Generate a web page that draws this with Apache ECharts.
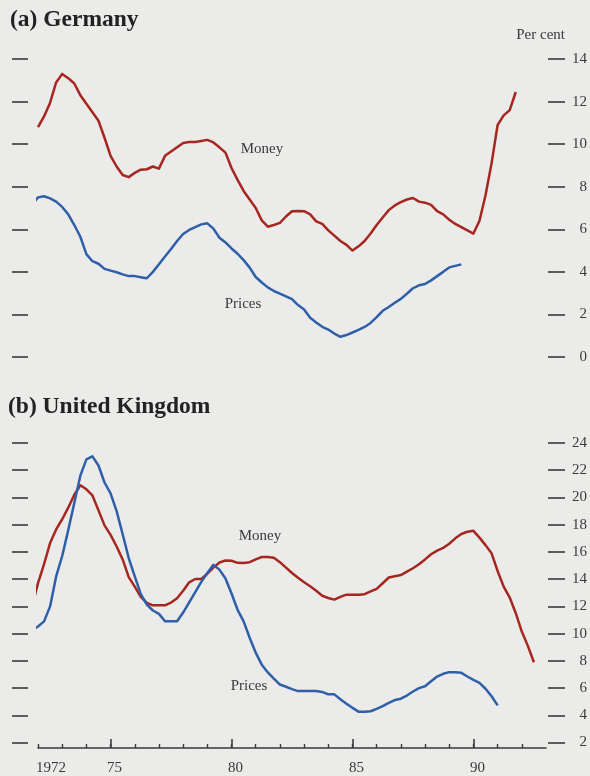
<!DOCTYPE html>
<html>
<head>
<meta charset="utf-8">
<script src="https://cdn.jsdelivr.net/npm/echarts@6/dist/echarts.min.js"></script>
<style>
  html, body { margin: 0; padding: 0; background: #ebebea; }
  #chart { width: 590px; height: 776px; }
</style>
</head>
<body>
<div id="chart"></div>
<script>
// Quarterly annual growth rates, per cent. Each series starts at its own year.
const deMoneyStart = 1972.0;
const deMoney = [
  10.8, 11.3, 11.95, 12.9,
  13.3, 13.1, 12.85, 12.3,
  11.9, 11.5, 11.1, 10.3,
  9.45, 8.95, 8.55, 8.45,
  8.65, 8.8, 8.82, 8.95,
  8.85, 9.45, 9.65, 9.85,
  10.05, 10.1, 10.1, 10.15,
  10.2, 10.08, 9.85, 9.6,
  8.88, 8.32, 7.8, 7.4,
  7.0, 6.42, 6.12, 6.2,
  6.3, 6.6, 6.85, 6.86,
  6.85, 6.7, 6.37, 6.25,
  5.95, 5.7, 5.45, 5.27,
  5.0, 5.2, 5.45, 5.8,
  6.2, 6.55, 6.9, 7.12,
  7.28, 7.4, 7.47, 7.3,
  7.25, 7.15, 6.85, 6.7,
  6.45, 6.25, 6.1, 5.95,
  5.8, 6.4, 7.6, 9.1,
  10.9, 11.35, 11.6, 12.45
];

const dePricesStart = 1971.75;
const dePrices = [
  7.15,
  7.5, 7.55, 7.45, 7.3,
  7.05, 6.7, 6.2, 5.65,
  4.83, 4.5, 4.38, 4.14,
  4.06, 3.98, 3.88, 3.8,
  3.8, 3.75, 3.7, 4.0,
  4.36, 4.72, 5.07, 5.45,
  5.78, 5.97, 6.1, 6.23,
  6.28, 6.03, 5.6, 5.38,
  5.1, 4.85, 4.55, 4.2,
  3.76, 3.5, 3.27, 3.1,
  2.98, 2.85, 2.72, 2.44,
  2.23, 1.84, 1.62, 1.42,
  1.29, 1.1, 0.95, 1.03,
  1.15, 1.27, 1.41, 1.6,
  1.87, 2.17, 2.35, 2.55,
  2.73, 2.97, 3.23, 3.37,
  3.43, 3.6, 3.8, 4.0,
  4.21, 4.28, 4.35
];

const ukMoneyStart = 1971.75;
const ukMoney = [
  11.95,
  13.7, 15.1, 16.65, 17.65,
  18.4, 19.25, 20.2, 20.9,
  20.6, 20.15, 19.05, 17.95,
  17.25, 16.4, 15.45, 14.15,
  13.45, 12.7, 12.25, 12.08,
  12.08, 12.08, 12.28, 12.6,
  13.15, 13.77, 14.01, 14.01,
  14.4, 14.85, 15.22, 15.37,
  15.35, 15.2, 15.19, 15.25,
  15.45, 15.63, 15.63, 15.58,
  15.25, 14.85, 14.45, 14.1,
  13.77, 13.48, 13.15, 12.78,
  12.62, 12.5, 12.7, 12.86,
  12.86, 12.86, 12.9, 13.1,
  13.28, 13.7, 14.12, 14.22,
  14.3, 14.55, 14.8, 15.1,
  15.45, 15.83, 16.1, 16.3,
  16.6, 17.0, 17.32, 17.48,
  17.55, 17.05, 16.5, 15.9,
  14.6, 13.45, 12.65, 11.5,
  10.15, 9.1, 7.9
];

const ukPricesStart = 1971.75;
const ukPrices = [
  10.25,
  10.52, 10.9, 12.0, 14.2,
  15.7, 17.6, 19.6, 21.6,
  22.8, 23.02, 22.35, 21.1,
  20.3, 19.0, 17.3, 15.55,
  14.2, 12.9, 12.13, 11.7,
  11.45, 10.91, 10.91, 10.91,
  11.55, 12.3, 13.05, 13.8,
  14.45, 15.05, 14.7, 14.05,
  12.95, 11.75, 10.9, 9.7,
  8.6, 7.72, 7.15, 6.7,
  6.26, 6.1, 5.92, 5.78,
  5.78, 5.78, 5.78, 5.72,
  5.54, 5.54, 5.18, 4.85,
  4.55, 4.27, 4.27, 4.3,
  4.48, 4.68, 4.92, 5.12,
  5.22, 5.45, 5.75, 6.0,
  6.13, 6.5, 6.85, 7.05,
  7.17, 7.17, 7.12, 6.85,
  6.6, 6.38, 5.95, 5.4,
  4.73
];

// Axis ticks and labels
const yearTicks = [1972, 1973, 1974, 1975, 1976, 1977, 1978, 1979, 1980, 1981,
                   1982, 1983, 1984, 1985, 1986, 1987, 1988, 1989, 1990, 1991, 1992];
const majorYears = [1975, 1980, 1985, 1990];
const yearLabels = [1972, 1975, 1980, 1985, 1990];
const deTicks = [0, 2, 4, 6, 8, 10, 12, 14];
const ukTicks = [2, 4, 6, 8, 10, 12, 14, 16, 18, 20, 22, 24];

const RED = '#a5271f';
const BLUE = '#2f5fa9';
const INK = '#3a3a3a';
const SERIF = '"Liberation Serif", "DejaVu Serif", serif';

function toPairs(start, values) {
  return values.map((v, i) => [start + i * 0.25, v]);
}

function sideAxis(gridIndex, position, min, max, ticks, withLabels) {
  return {
    type: 'value', gridIndex, position, min, max,
    offset: position === 'left' ? 10 : 2,
    axisLine: { show: false },
    splitLine: { show: false },
    axisTick: {
      show: true, length: position === 'left' ? 16 : 17,
      customValues: ticks,
      lineStyle: { color: INK, width: 1.6 }
    },
    axisLabel: {
      show: withLabels, customValues: ticks,
      align: 'right', margin: 39,
      fontFamily: SERIF, fontSize: 15, color: INK
    }
  };
}

function lineSeries(name, xi, yi, color, data) {
  return {
    name, type: 'line', xAxisIndex: xi, yAxisIndex: yi,
    data, showSymbol: false, clip: false, silent: true,
    lineStyle: { color, width: 2.5, join: 'round' },
    animation: false
  };
}

const chart = echarts.init(document.getElementById('chart'), null, { renderer: 'canvas' });

chart.setOption({
  backgroundColor: '#ebebea',
  animation: false,
  grid: [
    { left: 38, top: 59, width: 508, height: 298 },
    { left: 38, top: 443, width: 508, height: 306 }
  ],
  xAxis: [
    { type: 'value', gridIndex: 0, min: 1972, max: 1993, show: false },
    {
      type: 'value', gridIndex: 1, position: 'bottom', min: 1972, max: 1993,
      splitLine: { show: false },
      axisLine: { show: true, onZero: false, lineStyle: { color: INK, width: 1.6 } },
      axisTick: { show: true, inside: true, length: 4, customValues: yearTicks,
                  lineStyle: { color: INK, width: 1.4 } },
      axisLabel: { show: false }
    },
    {
      type: 'value', gridIndex: 1, position: 'bottom', min: 1972, max: 1993,
      splitLine: { show: false },
      axisLine: { show: false, onZero: false },
      axisTick: { show: true, inside: true, length: 9, customValues: majorYears,
                  lineStyle: { color: INK, width: 1.6 } },
      axisLabel: {
        show: true, customValues: yearLabels, margin: 13,
        fontFamily: SERIF, fontSize: 15, color: INK,
        formatter: v => v === 1972 ? '{f|1972}' : '{n|' + String(v).slice(2) + '}',
        rich: {
          f: { fontFamily: SERIF, fontSize: 15, color: INK, padding: [0, 0, 0, 26] },
          n: { fontFamily: SERIF, fontSize: 15, color: INK, padding: [0, 0, 0, 8] }
        }
      }
    }
  ],
  yAxis: [
    sideAxis(0, 'left', 0, 14, deTicks, false),
    sideAxis(0, 'right', 0, 14, deTicks, true),
    sideAxis(1, 'left', 1.6, 24, ukTicks, false),
    sideAxis(1, 'right', 1.6, 24, ukTicks, true)
  ],
  series: [
    lineSeries('Money', 0, 1, RED, toPairs(deMoneyStart, deMoney)),
    lineSeries('Prices', 0, 1, BLUE, toPairs(dePricesStart, dePrices)),
    lineSeries('Money', 1, 3, RED, toPairs(ukMoneyStart, ukMoney)),
    lineSeries('Prices', 1, 3, BLUE, toPairs(ukPricesStart, ukPrices))
  ],
  graphic: [
    { type: 'text', left: 10, top: 8,
      style: { text: '(a) Germany', font: 'bold 23.5px ' + SERIF, fill: '#222' } },
    { type: 'text', left: 8, top: 395,
      style: { text: '(b) United Kingdom', font: 'bold 23.5px ' + SERIF, fill: '#222' } },
    { type: 'text', x: 565, y: 35,
      style: { text: 'Per cent', font: '15px ' + SERIF, fill: INK,
               align: 'right', verticalAlign: 'middle' } },
    { type: 'text', x: 262, y: 149,
      style: { text: 'Money', font: '15px ' + SERIF, fill: INK,
               align: 'center', verticalAlign: 'middle' } },
    { type: 'text', x: 243, y: 304,
      style: { text: 'Prices', font: '15px ' + SERIF, fill: INK,
               align: 'center', verticalAlign: 'middle' } },
    { type: 'text', x: 260, y: 536,
      style: { text: 'Money', font: '15px ' + SERIF, fill: INK,
               align: 'center', verticalAlign: 'middle' } },
    { type: 'text', x: 249, y: 686,
      style: { text: 'Prices', font: '15px ' + SERIF, fill: INK,
               align: 'center', verticalAlign: 'middle' } }
  ]
});
</script>
</body>
</html>
